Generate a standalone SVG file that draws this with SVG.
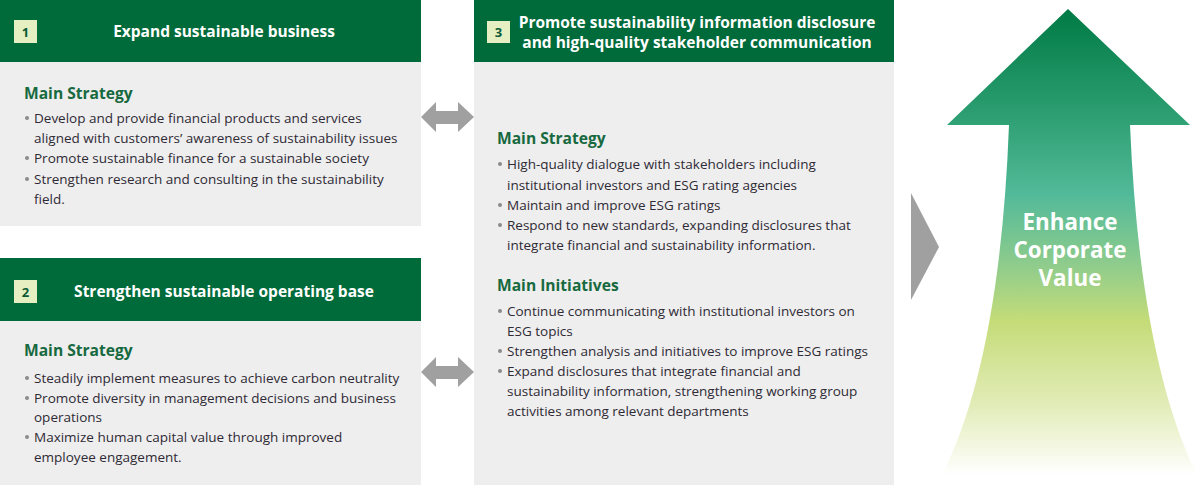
<svg xmlns="http://www.w3.org/2000/svg" width="1200" height="485" viewBox="0 0 1200 485">
<defs>
<style>
.hdr{fill:#006b3a}
.body{fill:#eeeeee}
.badge{fill:#e5efc2}
.num{font-family:"Open Sans","Liberation Sans",sans-serif;font-weight:700;font-size:13px;fill:#0b5a36;text-anchor:middle}
.ttl{font-family:"Open Sans","Liberation Sans",sans-serif;font-weight:700;font-size:15.5px;fill:#ffffff;text-anchor:middle}
.sub{font-family:"Open Sans","Liberation Sans",sans-serif;font-weight:700;font-size:15.6px;fill:#17693f}
.txt{font-family:"Open Sans","Liberation Sans",sans-serif;font-size:13.5px;fill:#2f2a35}
.dot{fill:#8a8a8a}
.conn{fill:#a0a0a0}
.big{font-family:"Open Sans","Liberation Sans",sans-serif;font-weight:700;font-size:22.4px;fill:#ffffff;text-anchor:middle}
</style>
<linearGradient id="g" x1="0" y1="9" x2="0" y2="475" gradientUnits="userSpaceOnUse">
<stop offset="0" stop-color="#007a45"/>
<stop offset="0.2" stop-color="#279a6c"/>
<stop offset="0.4" stop-color="#53ba99"/>
<stop offset="0.55" stop-color="#8fcc8c"/>
<stop offset="0.67" stop-color="#c5dc78"/>
<stop offset="0.85" stop-color="#e2ecb8"/>
<stop offset="1" stop-color="#ffffff"/>
</linearGradient>
</defs>

<g id="box1">
<rect class="hdr" x="0" y="0" width="421" height="62"/>
<rect class="body" x="0" y="62" width="421" height="164"/>
<rect class="badge" x="14" y="20" width="23" height="23"/>
<text class="num" x="25.5" y="36.5">1</text>
<text class="ttl" x="224" y="37">Expand sustainable business</text>
<text class="sub" x="24" y="99">Main Strategy</text>
<circle class="dot" cx="27" cy="118" r="2"/>
<text class="txt" x="34" y="123">Develop and provide financial products and services</text>
<text class="txt" x="34" y="143">aligned with customers’ awareness of sustainability issues</text>
<circle class="dot" cx="27" cy="158" r="2"/>
<text class="txt" x="34" y="163">Promote sustainable finance for a sustainable society</text>
<circle class="dot" cx="27" cy="179" r="2"/>
<text class="txt" x="34" y="184">Strengthen research and consulting in the sustainability</text>
<text class="txt" x="34" y="204">field.</text>
</g>

<g id="box2">
<rect class="hdr" x="0" y="258" width="421" height="63"/>
<rect class="body" x="0" y="321" width="421" height="164"/>
<rect class="badge" x="14" y="280" width="23" height="23"/>
<text class="num" x="25.5" y="296.5">2</text>
<text class="ttl" x="224" y="297">Strengthen sustainable operating base</text>
<text class="sub" x="24" y="356">Main Strategy</text>
<circle class="dot" cx="27" cy="378" r="2"/>
<text class="txt" x="34" y="383">Steadily implement measures to achieve carbon neutrality</text>
<circle class="dot" cx="27" cy="398" r="2"/>
<text class="txt" x="34" y="403">Promote diversity in management decisions and business</text>
<text class="txt" x="34" y="422">operations</text>
<circle class="dot" cx="27" cy="437" r="2"/>
<text class="txt" x="34" y="442">Maximize human capital value through improved</text>
<text class="txt" x="34" y="462">employee engagement.</text>
</g>

<g id="box3">
<rect class="hdr" x="474" y="0" width="420" height="62"/>
<rect class="body" x="474" y="62" width="420" height="423"/>
<rect class="badge" x="487" y="21" width="23" height="22"/>
<text class="num" x="498.5" y="37">3</text>
<text class="ttl" x="697" y="28">Promote sustainability information disclosure</text>
<text class="ttl" x="697" y="48">and high-quality stakeholder communication</text>
<text class="sub" x="497" y="144">Main Strategy</text>
<circle class="dot" cx="500" cy="164" r="2"/>
<text class="txt" x="507" y="169">High-quality dialogue with stakeholders including</text>
<text class="txt" x="507" y="190">institutional investors and ESG rating agencies</text>
<circle class="dot" cx="500" cy="205" r="2"/>
<text class="txt" x="507" y="210">Maintain and improve ESG ratings</text>
<circle class="dot" cx="500" cy="225" r="2"/>
<text class="txt" x="507" y="230">Respond to new standards, expanding disclosures that</text>
<text class="txt" x="507" y="250">integrate financial and sustainability information.</text>
<text class="sub" x="497" y="291">Main Initiatives</text>
<circle class="dot" cx="500" cy="311" r="2"/>
<text class="txt" x="507" y="316">Continue communicating with institutional investors on</text>
<text class="txt" x="507" y="336">ESG topics</text>
<circle class="dot" cx="500" cy="351" r="2"/>
<text class="txt" x="507" y="356">Strengthen analysis and initiatives to improve ESG ratings</text>
<circle class="dot" cx="500" cy="371" r="2"/>
<text class="txt" x="507" y="376">Expand disclosures that integrate financial and</text>
<text class="txt" x="507" y="396">sustainability information, strengthening working group</text>
<text class="txt" x="507" y="416">activities among relevant departments</text>
</g>

<g id="goal">
<path d="M1068,9 L1190,125 L1130,125 Q1140,360 1197,475 L942,475 Q1000,360 1009,125 L947,125 Z" fill="url(#g)"/>
<text class="big" x="1070" y="230">Enhance</text>
<text class="big" x="1070" y="258">Corporate</text>
<text class="big" x="1070" y="286">Value</text>
</g>

<g id="connectors">
<path class="conn" d="M421,117 L436,102 L436,111 L458,111 L458,102 L474,117 L458,132 L458,124 L436,124 L436,132 Z"/>
<path class="conn" d="M421,372 L436,357 L436,366 L458,366 L458,357 L474,372 L458,387 L458,379 L436,379 L436,387 Z"/>
<path class="conn" d="M911,193 L939,247 L911,300 Z"/>
</g>
</svg>
